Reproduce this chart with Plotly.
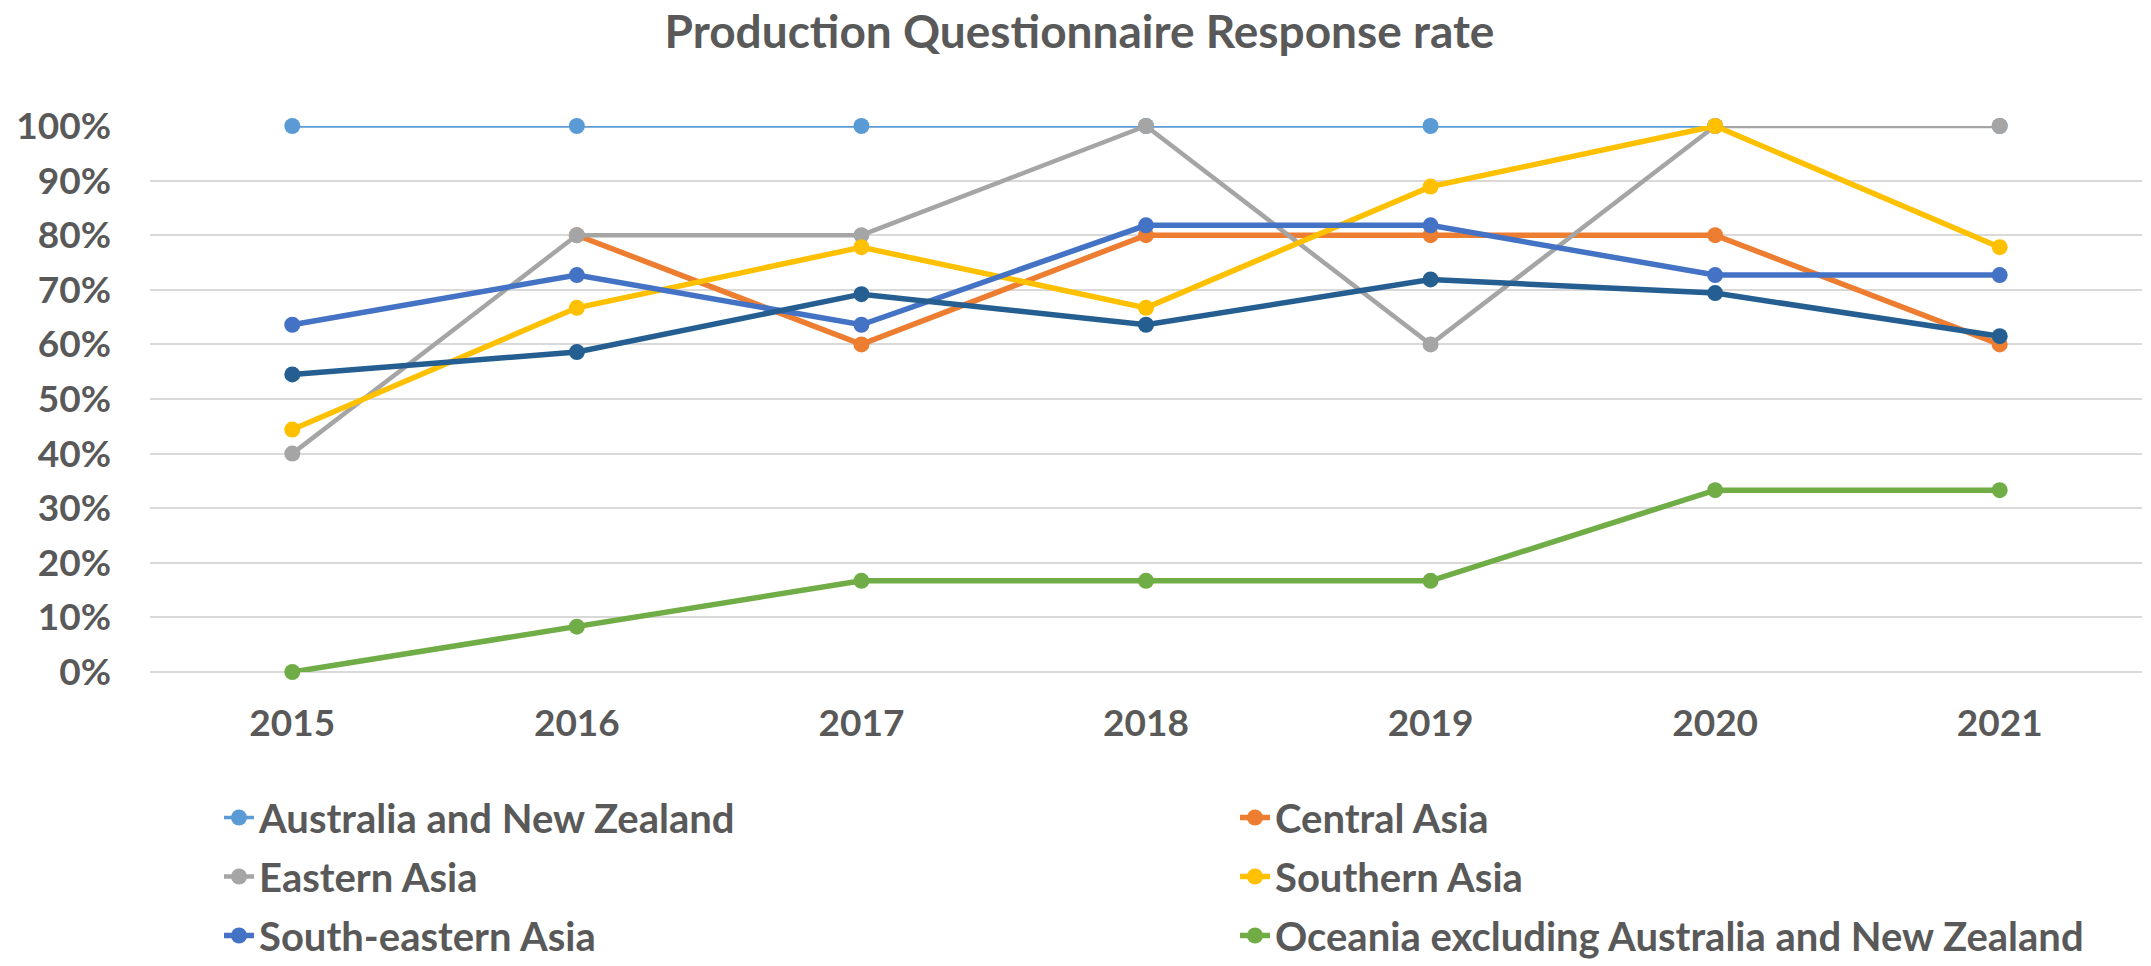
import plotly.graph_objects as go

years = ["2015", "2016", "2017", "2018", "2019", "2020", "2021"]

australia_nz = [1.0, 1.0, 1.0, 1.0, 1.0, 1.0, 1.0]
central_asia = [None, 0.80, 0.60, 0.80, 0.80, 0.80, 0.60]
eastern_asia = [0.40, 0.80, 0.80, 1.0, 0.60, 1.0, 1.0]
southern_asia = [0.444, 0.667, 0.778, 0.667, 0.889, 1.0, 0.778]
south_eastern_asia = [0.636, 0.727, 0.636, 0.818, 0.818, 0.727, 0.727]
unlabelled_series = [0.545, 0.586, 0.692, 0.636, 0.719, 0.694, 0.615]
oceania_excl = [0.0, 0.083, 0.167, 0.167, 0.167, 0.333, 0.333]

FONT = "Lato"
GREY_TXT = "#595959"
# page body has an 8px margin, so the figure is a bit smaller than the window
W, H = 2143, 958

fig = go.Figure()

# (name, values, colour, line width, which legend column)
series = [
    ("Australia and New Zealand", australia_nz, "#5B9BD5", 3.5, "legend"),
    ("Central Asia", central_asia, "#ED7D31", 5.5, "legend2"),
    ("Eastern Asia", eastern_asia, "#A5A5A5", 4.5, "legend"),
    ("Southern Asia", southern_asia, "#FFC000", 5.5, "legend2"),
    ("South-eastern Asia", south_eastern_asia, "#4472C4", 5.5, "legend"),
    ("", unlabelled_series, "#255E91", 5.5, None),
    ("Oceania excluding Australia and New Zealand", oceania_excl, "#70AD47", 5.5, "legend2"),
]

for name, vals, col, w, leg in series:
    fig.add_trace(go.Scatter(
        x=years, y=vals, name=name, mode="lines+markers",
        line=dict(color=col, width=w),
        marker=dict(color=col, size=16),
        cliponaxis=False,
        showlegend=leg is not None,
        legend=leg if leg else "legend",
        legendgroup=name,
    ))

legend_font = dict(size=40, color=GREY_TXT, family=FONT, weight="bold")
tick_font = dict(size=37, color=GREY_TXT, family=FONT, weight="bold")

fig.update_layout(
    width=W, height=H,
    paper_bgcolor="white", plot_bgcolor="white",
    margin=dict(l=142, r=9, t=118, b=294, autoexpand=False),
    font=dict(family=FONT, color=GREY_TXT),
    title=dict(text="<b>Production Questionnaire Response rate</b>",
               x=0.5, xanchor="center", y=1 - 8 / H, yanchor="top",
               yref="container", font=dict(size=46, color=GREY_TXT, family=FONT)),
    legend=dict(x=211 / W, xref="container", y=1 - 777 / H, yref="container",
                xanchor="left", yanchor="top", tracegroupgap=4,
                font=legend_font, bgcolor="rgba(0,0,0,0)"),
    legend2=dict(x=1227 / W, xref="container", y=1 - 777 / H, yref="container",
                 xanchor="left", yanchor="top", tracegroupgap=4,
                 font=legend_font, bgcolor="rgba(0,0,0,0)"),
)

fig.update_xaxes(type="category", range=[-0.5, 6.5], showgrid=False,
                 showline=False, ticks="", ticklabelstandoff=26, tickangle=0,
                 tickfont=tick_font)
fig.update_yaxes(range=[0, 1], dtick=0.1, tickformat=".0%", showgrid=True,
                 gridcolor="#D9D9D9", gridwidth=2, zeroline=True,
                 zerolinecolor="#D9D9D9", zerolinewidth=2, ticks="",
                 ticklabelstandoff=38, tickfont=tick_font)

fig.write_html("out.html")
